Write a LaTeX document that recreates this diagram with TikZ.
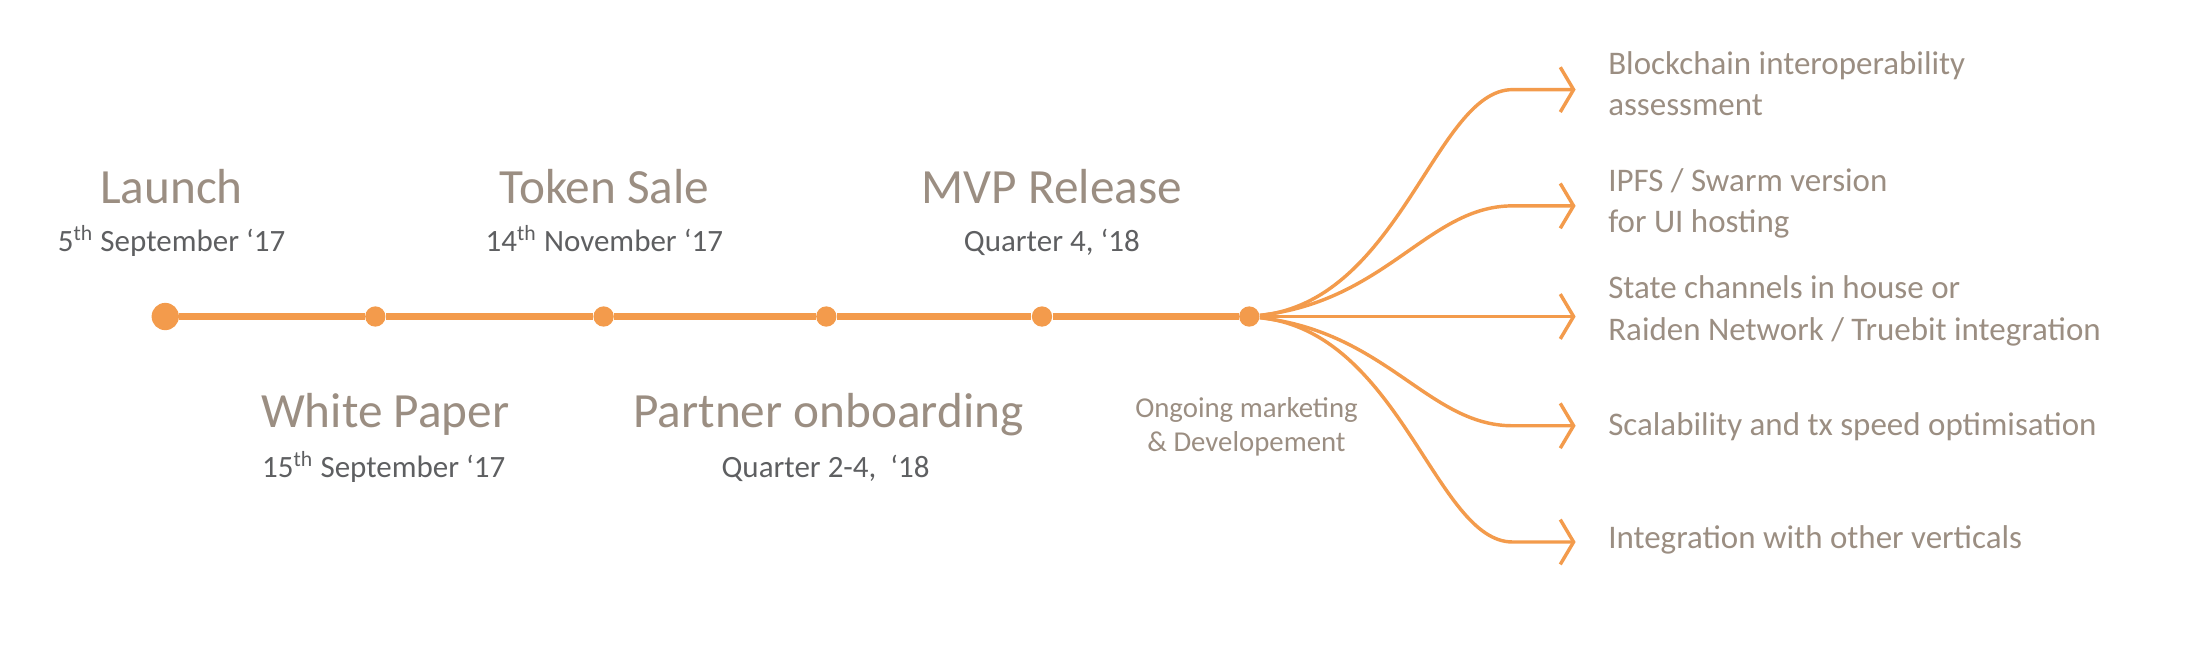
\documentclass[tikz,border=0pt]{standalone}
\usepackage{fontspec}
\setmainfont{Carlito}
\usetikzlibrary{positioning,arrows.meta}
\definecolor{roadorange}{HTML}{F39B4C}
\definecolor{roadbrown}{HTML}{9B8E82}
\definecolor{roadgrey}{HTML}{5E5F61}

\begin{document}
\begin{tikzpicture}[
    dot/.style={circle, fill=roadorange, inner sep=0pt, minimum size=0.29cm},
    bigdot/.style={dot, minimum size=0.39cm},
    tline/.style={roadorange, line width=3pt},
    branch/.style={roadorange, line width=1.4pt, -{Straight Barb[length=1.9mm, width=6.4mm]}},
    title/.style={anchor=base, inner sep=0pt, text=roadbrown, font=\fontsize{20}{24}\selectfont},
    date/.style={anchor=base, inner sep=0pt, text=roadgrey, font=\fontsize{12.6}{15}\selectfont},
    goal/.style={anchor=base west, inner sep=0pt, align=left, text=roadbrown, font=\fontsize{13.4}{16.7}\selectfont}
]
    \useasboundingbox (0,0) rectangle (31.36,9.32);

    % --- Timeline ---
    \node[bigdot] (launch) at (2.36,4.8) {};
    \node[dot] (paper) at (5.36,4.8) {};
    \node[dot] (sale) at (8.62,4.8) {};
    \node[dot] (partner) at (11.80,4.8) {};
    \node[dot] (mvp) at (14.88,4.8) {};
    \node[dot] (dev) at (17.84,4.8) {};
    \draw[tline] (launch) -- (paper) -- (sale) -- (partner) -- (mvp) -- (dev);

    % --- Milestones above ---
    \node[title] (launchT) at (2.45,6.41) {Launch};
    \node[date] (launchD) at (2.45,5.726) {5\textsuperscript{th} September ‘17};
    \node[title] (saleT) at (8.63,6.41) {Token Sale};
    \node[date] (saleD) at (8.63,5.726) {14\textsuperscript{th} November ‘17};
    \node[title] (mvpT) at (15.02,6.41) {MVP Release};
    \node[date] (mvpD) at (15.02,5.726) {Quarter 4, ‘18};

    % --- Milestones below ---
    \node[title] (paperT) at (5.50,3.22) {White Paper};
    \node[date] (paperD) at (5.48,2.50) {15\textsuperscript{th} September ‘17};
    \node[title] (partnerT) at (11.83,3.22) {Partner onboarding};
    \node[date] (partnerD) at (11.79,2.50) {Quarter 2-4,~~‘18};
    \node[anchor=base, inner sep=0pt, align=center, text=roadbrown, font=\fontsize{11.7}{13.9}\selectfont] (devT) at (17.8,2.876) {Ongoing marketing\\\& Developement};

    % --- Branches ---
    \coordinate (k1) at (21.6,8.04);  \coordinate (t1) at (22.5,8.04);
    \coordinate (k2) at (21.6,6.38);  \coordinate (t2) at (22.5,6.38);
    \coordinate (t3) at (22.5,4.80);
    \coordinate (k4) at (21.6,3.24);  \coordinate (t4) at (22.5,3.24);
    \coordinate (k5) at (21.6,1.58);  \coordinate (t5) at (22.5,1.58);
    \draw[branch] (dev) .. controls +(2.16,0.22) and +(-1.1,0) .. (k1) -- (t1);
    \draw[branch] (dev) .. controls +(1.96,0.22) and +(-1.2,0) .. (k2) -- (t2);
    \draw[branch] (dev) -- (t3);
    \draw[branch] (dev) .. controls +(1.96,-0.22) and +(-1.2,0) .. (k4) -- (t4);
    \draw[branch] (dev) .. controls +(2.16,-0.22) and +(-1.1,0) .. (k5) -- (t5);

    % --- Goals ---
    \node[goal] (g1) at (22.96,7.664) {Blockchain interoperability\\assessment};
    \node[goal] (g2) at (22.96,6.0) {IPFS / Swarm version\\for UI hosting};
    \node[goal] (g3) at (22.96,4.464) {State channels in house or\\Raiden Network / Truebit integration};
    \node[goal] (g4) at (22.96,3.108) {Scalability and tx speed optimisation};
    \node[goal] (g5) at (22.96,1.494) {Integration with other verticals};
\end{tikzpicture}
\end{document}
